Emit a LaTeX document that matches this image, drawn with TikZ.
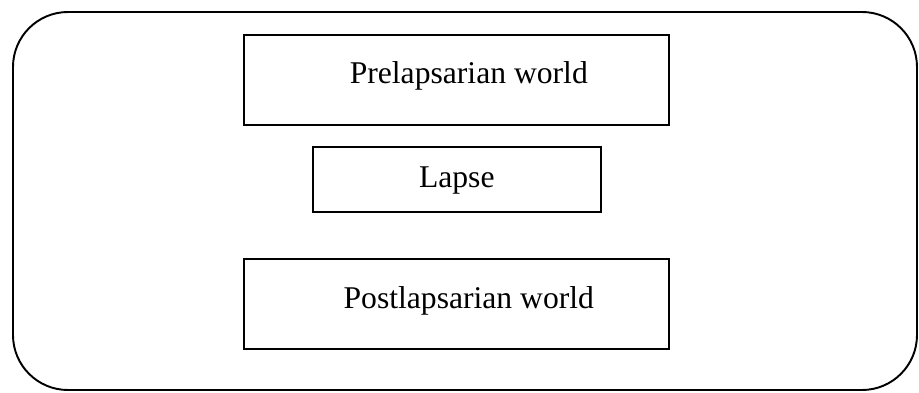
\documentclass[tikz,border=0pt]{standalone}
\usepackage{fontspec}
\setmainfont{Liberation Serif}
\usepackage{tikz}
\tikzset{
	frame/.style={line width=1.1pt,rounded corners=1.1cm},
	world/.style={rectangle,draw=black,line width=0.9pt,inner sep=0pt,minimum width=8.5cm,font=\fontsize{18}{22}\selectfont},
	lapsebox/.style={rectangle,draw=black,line width=0.9pt,inner sep=0pt,minimum width=5.76cm,font=\fontsize{18}{22}\selectfont},
	}

\begin{document}
\begin{tikzpicture}
 \useasboundingbox (0,0) rectangle (18.38,7.84);
 \draw[frame] (0.26,0.04) rectangle (18.34,7.6);

\node (pre) at (4.86,7.16) [world,anchor=north west,text height=0.98cm,text depth=0.82cm] {\hspace*{0.5cm}Prelapsarian world};
\node (lapse) at (6.24,4.92) [lapsebox,anchor=north west,text height=0.82cm,text depth=0.48cm] {Lapse};
\node (post) at (4.86,2.68) [world,anchor=north west,text height=1.0cm,text depth=0.8cm] {\hspace*{0.5cm}Postlapsarian world};
\end{tikzpicture}
\end{document}
